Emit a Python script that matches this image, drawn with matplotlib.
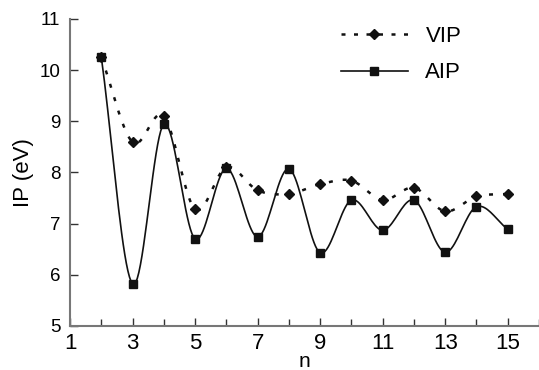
import numpy as np
import matplotlib
matplotlib.use("Agg")
import matplotlib.pyplot as plt
from matplotlib.lines import Line2D

n = [2, 3, 4, 5, 6, 7, 8, 9, 10, 11, 12, 13, 14, 15]
vip = [10.25, 8.59, 9.10, 7.28, 8.10, 7.65, 7.58, 7.77, 7.84, 7.46, 7.70, 7.24, 7.53, 7.58]
aip = [10.25, 5.82, 8.94, 6.70, 8.08, 6.74, 8.07, 6.43, 7.46, 6.87, 7.46, 6.44, 7.33, 6.89]
xticks = [1, 3, 5, 7, 9, 11, 13, 15]
yticks = [5, 6, 7, 8, 9, 10, 11]

plt.rcParams['font.family'] = ['Liberation Sans', 'DejaVu Sans']


def smooth(x, y, k=20):
    x = np.asarray(x, float)
    y = np.asarray(y, float)
    px = np.concatenate([[2 * x[0] - x[1]], x, [2 * x[-1] - x[-2]]])
    py = np.concatenate([[2 * y[0] - y[1]], y, [2 * y[-1] - y[-2]]])
    xs, ys = [], []
    t = np.linspace(0, 1, k, endpoint=False)
    for i in range(1, len(px) - 2):
        p0, p1, p2, p3 = px[i - 1:i + 3]
        q0, q1, q2, q3 = py[i - 1:i + 3]
        c1x, c1y = p1 + (p2 - p0) / 6, q1 + (q2 - q0) / 6
        c2x, c2y = p2 - (p3 - p1) / 6, q2 - (q3 - q1) / 6
        bx = (1 - t) ** 3 * p1 + 3 * (1 - t) ** 2 * t * c1x + 3 * (1 - t) * t ** 2 * c2x + t ** 3 * p2
        by = (1 - t) ** 3 * q1 + 3 * (1 - t) ** 2 * t * c1y + 3 * (1 - t) * t ** 2 * c2y + t ** 3 * q2
        xs.extend(bx)
        ys.extend(by)
    xs.append(x[-1])
    ys.append(y[-1])
    return np.array(xs), np.array(ys)


fig = plt.figure(figsize=(5.39, 3.70), dpi=100)
ax = fig.add_axes([0.13, 0.119, 0.87, 0.83])

dash = (0, (1.6, 4.0))
vx, vy = smooth(n, vip)
ax.plot(vx, vy, color='#111111', lw=1.8, ls=dash)
ax.plot(n, vip, ls='none', marker='D', ms=5.5, color='#111111')
axx, axy = smooth(n, aip)
ax.plot(axx, axy, color='#111111', lw=1.2)
ax.plot(n, aip, ls='none', marker='s', ms=6.4, color='#111111')

ax.set_xlim(1, 16)
ax.set_ylim(5, 11)
ax.set_xticks(xticks)
ax.set_xticks(range(1, 17), minor=True)
ax.set_yticks(yticks)
for s in ['top', 'right']:
    ax.spines[s].set_visible(False)
for s in ['left', 'bottom']:
    ax.spines[s].set_color('#777777')
    ax.spines[s].set_linewidth(1.5)
ax.tick_params(which='both', direction='in', color='#333333', width=1.0)
ax.tick_params(which='major', length=6)
ax.tick_params(which='minor', length=5)
ax.tick_params(axis='x', pad=5, labelsize=16)
ax.tick_params(axis='y', pad=7, labelsize=13.5)
ax.set_ylabel('IP (eV)', fontsize=16, labelpad=4)
ax.set_xlabel('n', fontsize=15, labelpad=-1.5)

h1 = Line2D([], [], color='#111111', lw=1.8, ls=(0, (1.6, 3.4)), marker='D', ms=5.5)
h2 = Line2D([], [], color='#111111', lw=1.2, marker='s', ms=6.4)
fig.legend([h1, h2], ['VIP', 'AIP'], loc='center left',
           bbox_to_anchor=(341 / 539, 1 - 54.5 / 370),
           frameon=False, fontsize=16, handlelength=3.0, handletextpad=0.8,
           labelspacing=0.7, borderpad=0, borderaxespad=0)

fig.savefig('out.png', dpi=100)
